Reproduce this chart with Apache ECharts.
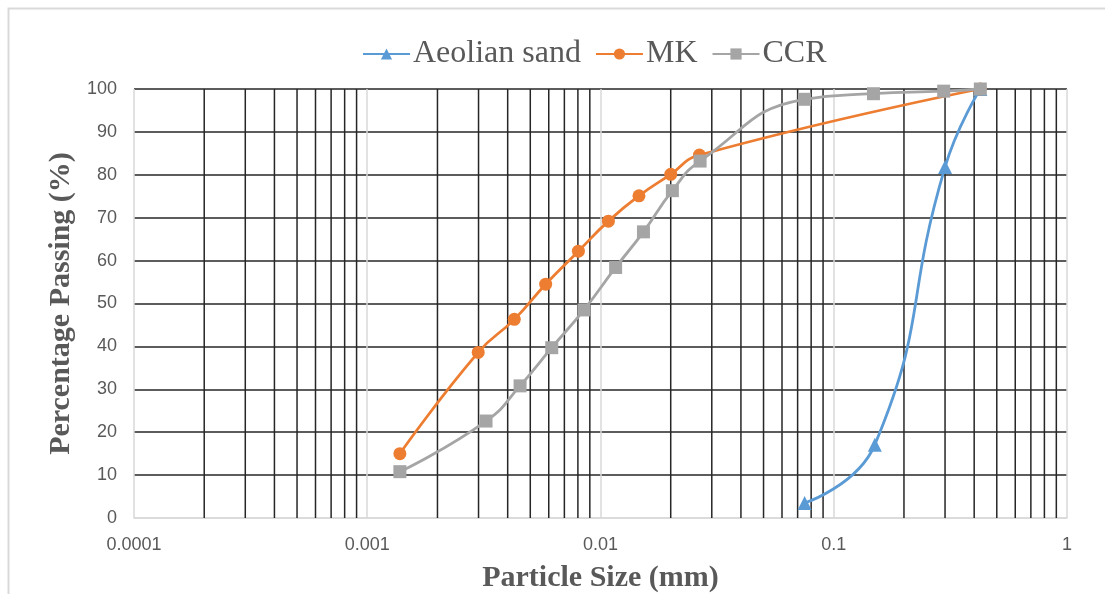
<!DOCTYPE html>
<html>
<head>
<meta charset="utf-8">
<script src="https://cdn.jsdelivr.net/npm/echarts@6/dist/echarts.min.js"></script>
<style>
  html, body { margin: 0; padding: 0; background: #fff; }
  #chart { width: 1105px; height: 594px; }
</style>
</head>
<body>
<div id="chart"></div>
<script>
// Particle size distribution curves (particle size in mm, % passing)
const aeolianSize = [0.075, 0.15, 0.3, 0.425];
const aeolianPass = [3.5, 17.1, 81.8, 100];

const mkSize = [0.00138, 0.00299, 0.00427, 0.00582, 0.00804, 0.01081, 0.01462, 0.0200, 0.02655, 0.425];
const mkPass = [15.0, 38.6, 46.3, 54.5, 62.2, 69.2, 75.1, 80.1, 84.6, 100];

const ccrSize = [0.00138, 0.00323, 0.00452, 0.00618, 0.00849, 0.01161, 0.01528, 0.02033, 0.02673, 0.0748, 0.148, 0.296, 0.425];
const ccrPass = [10.8, 22.6, 30.8, 39.7, 48.5, 58.4, 66.7, 76.3, 83.2, 97.6, 98.9, 99.5, 100];

const seriesNames = ['Aeolian sand', 'MK', 'CCR'];
const decades = [0.0001, 0.001, 0.01, 0.1];
const minorSteps = [2, 3, 4, 5, 6, 7, 8, 9];
const xTickLabels = ['0.0001', '0.001', '0.01', '0.1', '1'];

// minor gridlines of the log axis: 2..9 within each decade
const minorGrid = [];
decades.forEach(d => minorSteps.forEach(m => minorGrid.push(+(d * m).toPrecision(3))));

const pairs = (xs, ys) => xs.map((x, i) => [x, ys[i]]);

const serif = '"Liberation Serif", "Times New Roman", serif';
const sans = '"Liberation Sans", Arial, sans-serif';

const chart = echarts.init(document.getElementById('chart'), null, { renderer: 'canvas' });

chart.setOption({
  backgroundColor: '#ffffff',
  animation: false,
  graphic: [{
    type: 'rect',
    left: 6, top: 6,
    shape: { width: 1200, height: 700 },
    style: { fill: 'none', stroke: '#D9D9D9', lineWidth: 2 },
    silent: true, z: -10
  }],
  legend: {
    data: seriesNames,
    top: 33,
    left: 357,
    itemWidth: 47,
    itemHeight: 14,
    itemGap: 14,
    textStyle: { fontFamily: serif, fontSize: 32, color: '#595959', padding: [0, 0, 0, -2] }
  },
  grid: { left: 134, right: 38, top: 89, bottom: 76, containLabel: false, outerBoundsMode: 'none' },
  xAxis: {
    type: 'log',
    logBase: 10,
    min: 0.0001,
    max: 1,
    name: 'Particle Size (mm)',
    nameLocation: 'middle',
    nameGap: 45,
    nameTextStyle: { fontFamily: serif, fontSize: 30, fontWeight: 'bold', color: '#595959' },
    axisLine: { show: true, lineStyle: { color: '#D9D9D9', width: 1.5 } },
    axisTick: { show: false },
    axisLabel: {
      margin: 18,
      fontFamily: sans, fontSize: 18, color: '#595959',
      formatter: v => {
        const i = Math.round(Math.log10(v)) + 4;
        return xTickLabels[i] !== undefined ? xTickLabels[i] : '';
      }
    },
    splitLine: { show: true, lineStyle: { color: '#D9D9D9', width: 1.5 } }
  },
  yAxis: {
    type: 'value',
    min: 0,
    max: 100,
    interval: 10,
    name: 'Percentage Passing (%)',
    nameLocation: 'middle',
    nameGap: 57,
    nameTextStyle: { fontFamily: serif, fontSize: 30, fontWeight: 'bold', color: '#595959' },
    axisLine: { show: false },
    axisTick: { show: false },
    axisLabel: { margin: 17, fontFamily: sans, fontSize: 18, color: '#595959' },
    splitLine: {
      show: true,
      lineStyle: {
        color: ['#D9D9D9', '#262626', '#262626', '#262626', '#262626', '#262626',
                '#262626', '#262626', '#262626', '#262626', '#262626'],
        width: 1.5
      }
    }
  },
  series: [
    {
      // vertical minor gridlines placed through the log x scale
      name: 'minor-grid',
      type: 'custom',
      silent: true,
      z: 1,
      data: minorGrid.map(v => [v, 0]),
      encode: { x: 0, y: 1 },
      renderItem: (params, api) => {
        const v = api.value(0);
        const p0 = api.coord([v, 0]);
        const p1 = api.coord([v, 100]);
        return {
          type: 'line',
          shape: { x1: p0[0], y1: p0[1], x2: p1[0], y2: p1[1] },
          style: { stroke: '#262626', lineWidth: 1.5 }
        };
      }
    },
    {
      name: seriesNames[0],
      type: 'line',
      smooth: true,
      data: pairs(aeolianSize, aeolianPass),
      symbol: 'triangle',
      symbolSize: 14,
      lineStyle: { color: '#5B9BD5', width: 2.8 },
      itemStyle: { color: '#5B9BD5' },
      z: 3
    },
    {
      name: seriesNames[1],
      type: 'line',
      smooth: true,
      data: pairs(mkSize, mkPass),
      symbol: 'circle',
      symbolSize: 13,
      lineStyle: { color: '#ED7D31', width: 2.8 },
      itemStyle: { color: '#ED7D31' },
      z: 4
    },
    {
      name: seriesNames[2],
      type: 'line',
      smooth: true,
      data: pairs(ccrSize, ccrPass),
      symbol: 'rect',
      symbolSize: 13,
      lineStyle: { color: '#A5A5A5', width: 2.8 },
      itemStyle: { color: '#A5A5A5' },
      z: 5
    }
  ]
});
</script>
</body>
</html>
